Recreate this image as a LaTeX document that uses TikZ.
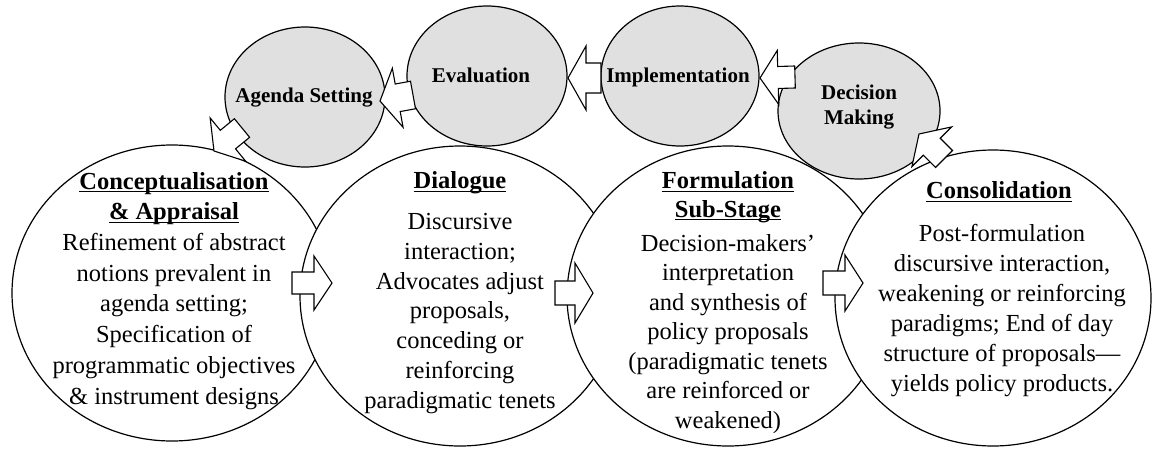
\documentclass[tikz,border=0pt]{standalone}
\usepackage{fontspec}
\setmainfont{Liberation Serif}
\usetikzlibrary{calc,shapes.geometric}
\definecolor{greyfill}{RGB}{224,224,224}
\newcommand\hdul[1]{\setbox0\hbox{#1}\rlap{\rule[-3.2pt]{\wd0}{1.3pt}}\box0}
\newcommand\blockarr[4]{% shaft half-width, head half-width, tail, tip
  \coordinate (bah) at ($(#4)!18pt!(#3)$);
  \draw[barrow] ($(#3)!#1!90:(#4)$) -- ($(bah)!#1!90:(#4)$) -- ($(bah)!#2!90:(#4)$) -- (#4)
    -- ($(bah)!#2!-90:(#4)$) -- ($(bah)!#1!-90:(#4)$) -- ($(#3)!#1!-90:(#4)$) -- cycle;}
\begin{document}
\begin{tikzpicture}[x=1pt,y=-1pt,
  bigell/.style={ellipse, draw, line width=1.2pt, fill=white, inner sep=0pt},
  greyell/.style={ellipse, draw, line width=1.2pt, fill=greyfill, inner sep=0pt},
  barrow/.style={draw, line width=1.1pt, fill=white, line join=miter},
  body/.style={anchor=north, align=center, inner sep=0pt},
  glabel/.style={inner sep=0pt, align=center, font=\fontsize{21}{25}\selectfont\bfseries}]
\useasboundingbox (0,0) rectangle (1153,450);
% big stage ellipses
\node[bigell, minimum width=320pt, minimum height=296pt] (con) at (172,293) {};
\node[bigell, minimum width=320pt, minimum height=300pt] (dia) at (460,296) {};
\node[bigell, minimum width=322pt, minimum height=300pt] (for) at (728,296) {};
\node[bigell, minimum width=316pt, minimum height=296pt] (cns) at (993,298) {};
% grey ellipses
\node[greyell, minimum width=160pt, minimum height=140pt] (ag) at (305,97) {};
\node[greyell, minimum width=160pt, minimum height=140pt] (ev) at (487,76) {};
\node[greyell, minimum width=158pt, minimum height=140pt] (im) at (680,76) {};
\node[greyell, minimum width=162pt, minimum height=136pt] (dm) at (859,111) {};
% grey labels
\node[glabel] (agt) at (304,98) {Agenda Setting};
\node[glabel] (evt) at (481,75) {Evaluation};
\node[glabel] (imt) at (678,77) {Implementation};
\node[glabel] (dmt) at (859,107) {Decision\\Making};
% texts of big ellipses
\node[body, font=\fontsize{24.5}{30.7}\selectfont] (cont) at (174,167.5)
  {\strut\hdul{\textbf{Conceptualisation}}\\ \hdul{\textbf{\& Appraisal}}\\
   Refinement of abstract\\ notions prevalent in\\ agenda setting;\\
   Specification of\\ programmatic objectives\\ \& instrument designs};
\node[body, font=\fontsize{24.5}{30}\selectfont] (diah) at (460,167.5)
  {\strut\hdul{\textbf{Dialogue}}};
\node[body, font=\fontsize{24.5}{29.8}\selectfont] (diat) at (460,208.5)
  {\strut Discursive\\ interaction;\\ Advocates adjust\\ proposals,\\
   conceding or\\ reinforcing\\ paradigmatic tenets};
\node[body, font=\fontsize{24.5}{28.5}\selectfont] (forh) at (728,168.5)
  {\strut\hdul{\textbf{Formulation}}\\ \hdul{\textbf{Sub-Stage}}};
\node[body, font=\fontsize{24.5}{29.5}\selectfont] (fort) at (728,230.5)
  {\strut Decision-makers’\\ interpretation\\ and synthesis of\\ policy proposals\\
   (paradigmatic tenets\\ are reinforced or\\ weakened)};
\node[body, font=\fontsize{24.5}{30}\selectfont] (cnsh) at (999,177.5)
  {\strut\hdul{\textbf{Consolidation}}};
\node[body, font=\fontsize{24.5}{30}\selectfont] (cnst) at (1002,220.5)
  {\strut Post-formulation\\ discursive interaction,\\ weakening or reinforcing\\
   paradigms; End of day\\ structure of proposals—\\ yields policy products.};
% arrow end points
\coordinate (a1t) at (413,95);  \coordinate (a1h) at (380,101);
\coordinate (a2t) at (601,78);  \coordinate (a2h) at (568,78);
\coordinate (a3t) at (795,77);  \coordinate (a3h) at (760,78);
\coordinate (a4t) at (292,283); \coordinate (a4h) at (332,283);
\coordinate (a5t) at (555,293); \coordinate (a5h) at (593,293);
\coordinate (a6t) at (823,283); \coordinate (a6h) at (863,283);
\coordinate (a7t) at (944,159); \coordinate (a7h) at (919,134);
\coordinate (a8t) at (242,128); \coordinate (a8h) at (214,151);
\blockarr{14pt}{30pt}{a1t}{a1h}
\blockarr{15pt}{32pt}{a2t}{a2h}
\blockarr{11pt}{27pt}{a3t}{a3h}
\blockarr{11pt}{27pt}{a4t}{a4h}
\blockarr{12pt}{30pt}{a5t}{a5h}
\blockarr{12pt}{28pt}{a6t}{a6h}
\blockarr{12pt}{28pt}{a7t}{a7h}
\blockarr{12pt}{28pt}{a8t}{a8h}
\end{tikzpicture}
\end{document}
